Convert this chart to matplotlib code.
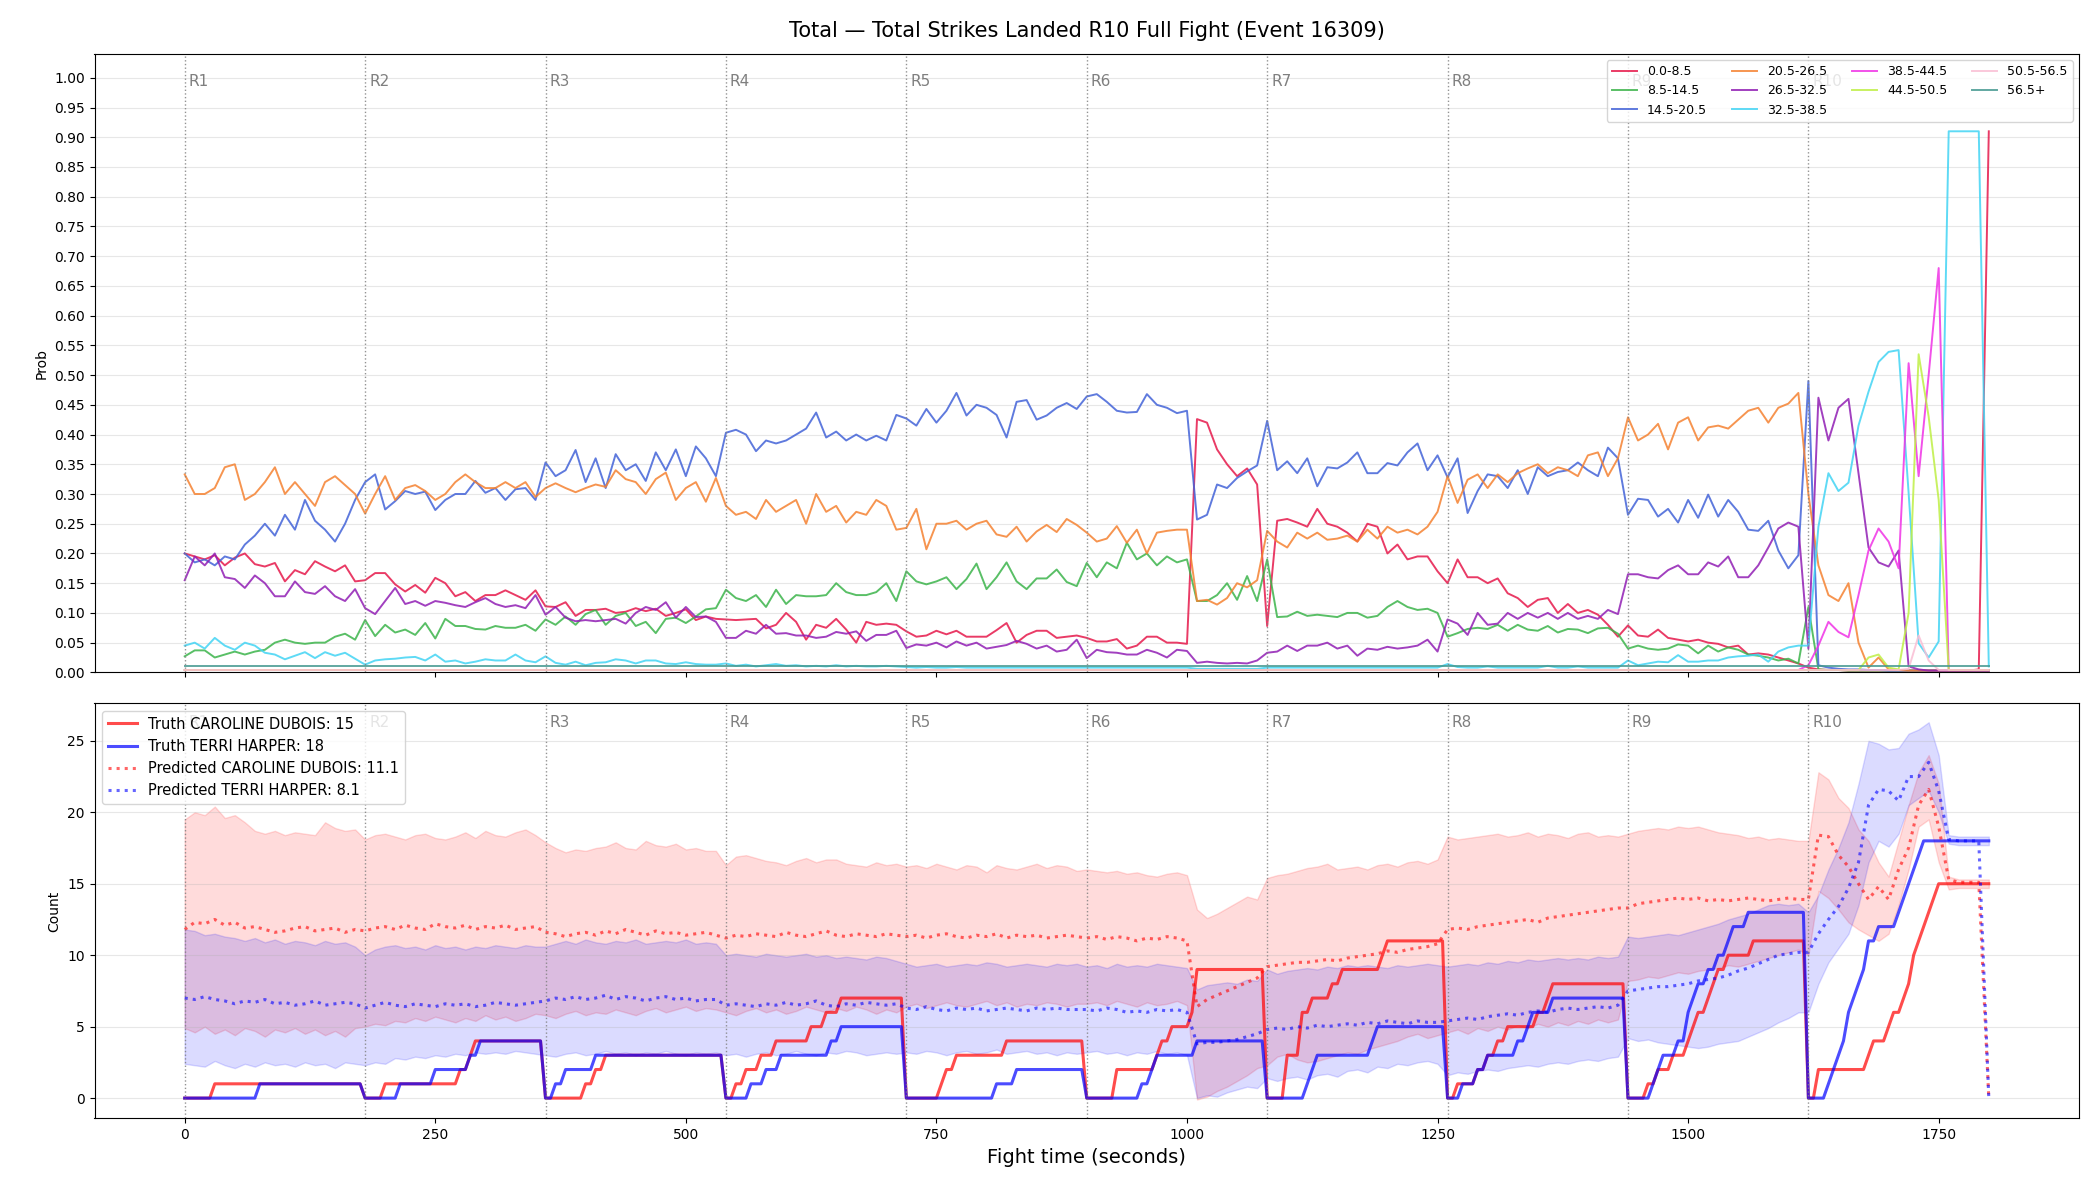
import numpy as np
import matplotlib
matplotlib.use("Agg")
import matplotlib.pyplot as plt

# ---------------- data ----------------
TITLE = "Total \u2014 Total Strikes Landed R10 Full Fight (Event 16309)"
ROUND_STARTS = [0, 180, 360, 540, 720, 900, 1080, 1260, 1440, 1620]
FIGHT_END = 1800
STEP = 10  # seconds between model samples

BIN_LABELS = ["0.0-8.5", "8.5-14.5", "14.5-20.5", "20.5-26.5", "26.5-32.5",
              "32.5-38.5", "38.5-44.5", "44.5-50.5", "50.5-56.5", "56.5+"]
BIN_COLORS = ["#e6194b", "#3cb44b", "#4363d8", "#f58231", "#911eb4",
              "#42d4f4", "#f032e6", "#bfef45", "#fabed4", "#469990"]

# probability of each total-strikes bin, one row per round, last value = t 1800
p_0_8 = [
    0.20, 0.195, 0.19, 0.197, 0.18, 0.193, 0.20, 0.182, 0.178, 0.184, 0.153, 0.172, 0.165, 0.187, 0.178, 0.17, 0.18, 0.153,
    0.155, 0.167, 0.167, 0.148, 0.136, 0.147, 0.134, 0.159, 0.15, 0.128, 0.135, 0.12, 0.13, 0.13, 0.138, 0.13, 0.122, 0.138,
    0.111, 0.11, 0.118, 0.095, 0.105, 0.105, 0.107, 0.10, 0.102, 0.108, 0.103, 0.107, 0.095, 0.10, 0.106, 0.088, 0.094, 0.09,
    0.089, 0.088, 0.089, 0.09, 0.074, 0.08, 0.10, 0.085, 0.055, 0.08, 0.075, 0.09, 0.072, 0.05, 0.085, 0.08, 0.082, 0.08,
    0.069, 0.06, 0.062, 0.07, 0.064, 0.07, 0.06, 0.06, 0.06, 0.071, 0.083, 0.05, 0.063, 0.07, 0.07, 0.058, 0.06, 0.062,
    0.058, 0.052, 0.052, 0.056, 0.04, 0.045, 0.06, 0.06, 0.05, 0.05, 0.048, 0.426, 0.42, 0.375, 0.35, 0.33, 0.343, 0.316,
    0.078, 0.255, 0.258, 0.252, 0.245, 0.275, 0.25, 0.245, 0.235, 0.22, 0.25, 0.245, 0.20, 0.215, 0.19, 0.195, 0.195, 0.17,
    0.15, 0.19, 0.16, 0.16, 0.15, 0.158, 0.133, 0.125, 0.11, 0.122, 0.125, 0.10, 0.115, 0.10, 0.105, 0.097, 0.08, 0.06,
    0.079, 0.062, 0.06, 0.072, 0.058, 0.055, 0.052, 0.055, 0.05, 0.048, 0.042, 0.045, 0.03, 0.032, 0.03, 0.025, 0.02, 0.015,
    0.008, 0.005, 0.004, 0.004, 0.003, 0.003, 0.003, 0.003, 0.003, 0.003, 0.003, 0.003, 0.003, 0.003, 0.003, 0.003, 0.003, 0.005,
    0.91,
]
p_8_14 = [
    0.027, 0.037, 0.037, 0.025, 0.03, 0.035, 0.03, 0.035, 0.038, 0.05, 0.055, 0.05, 0.048, 0.05, 0.05, 0.06, 0.065, 0.055,
    0.088, 0.061, 0.08, 0.067, 0.072, 0.063, 0.083, 0.057, 0.09, 0.078, 0.078, 0.073, 0.072, 0.078, 0.075, 0.075, 0.08, 0.07,
    0.089, 0.08, 0.094, 0.08, 0.098, 0.105, 0.08, 0.095, 0.10, 0.078, 0.085, 0.066, 0.09, 0.092, 0.083, 0.094, 0.106, 0.108,
    0.139, 0.125, 0.12, 0.13, 0.11, 0.139, 0.115, 0.13, 0.128, 0.128, 0.13, 0.15, 0.135, 0.13, 0.13, 0.135, 0.15, 0.12,
    0.17, 0.153, 0.148, 0.153, 0.16, 0.14, 0.157, 0.183, 0.14, 0.16, 0.185, 0.153, 0.14, 0.158, 0.158, 0.173, 0.152, 0.145,
    0.184, 0.16, 0.185, 0.175, 0.218, 0.19, 0.20, 0.18, 0.195, 0.185, 0.19, 0.12, 0.12, 0.13, 0.15, 0.122, 0.162, 0.12,
    0.19, 0.093, 0.094, 0.102, 0.095, 0.097, 0.095, 0.093, 0.10, 0.10, 0.092, 0.095, 0.11, 0.12, 0.11, 0.105, 0.107, 0.10,
    0.06, 0.066, 0.073, 0.075, 0.073, 0.08, 0.07, 0.08, 0.072, 0.07, 0.078, 0.067, 0.073, 0.072, 0.066, 0.074, 0.075, 0.065,
    0.04, 0.045, 0.04, 0.038, 0.04, 0.047, 0.045, 0.032, 0.045, 0.035, 0.042, 0.038, 0.03, 0.028, 0.025, 0.02, 0.023, 0.015,
    0.11, 0.005, 0.004, 0.004, 0.003, 0.003, 0.003, 0.003, 0.003, 0.003, 0.003, 0.003, 0.003, 0.003, 0.003, 0.003, 0.003, 0.003,
    0.003,
]
p_14_20 = [
    0.20, 0.185, 0.19, 0.18, 0.195, 0.19, 0.215, 0.23, 0.25, 0.23, 0.265, 0.24, 0.29, 0.255, 0.24, 0.22, 0.25, 0.29,
    0.32, 0.333, 0.274, 0.288, 0.305, 0.30, 0.304, 0.273, 0.29, 0.30, 0.30, 0.322, 0.302, 0.31, 0.29, 0.308, 0.31, 0.29,
    0.353, 0.33, 0.34, 0.374, 0.32, 0.36, 0.31, 0.367, 0.34, 0.35, 0.322, 0.37, 0.34, 0.375, 0.33, 0.38, 0.36, 0.33,
    0.403, 0.408, 0.40, 0.372, 0.39, 0.385, 0.39, 0.40, 0.41, 0.437, 0.395, 0.405, 0.39, 0.40, 0.39, 0.398, 0.39, 0.433,
    0.427, 0.415, 0.443, 0.42, 0.44, 0.47, 0.432, 0.45, 0.445, 0.433, 0.395, 0.455, 0.458, 0.425, 0.432, 0.445, 0.453, 0.443,
    0.464, 0.468, 0.455, 0.44, 0.437, 0.438, 0.468, 0.45, 0.445, 0.436, 0.44, 0.257, 0.265, 0.316, 0.31, 0.327, 0.338, 0.348,
    0.423, 0.34, 0.355, 0.335, 0.36, 0.313, 0.345, 0.343, 0.353, 0.37, 0.335, 0.335, 0.352, 0.348, 0.37, 0.385, 0.34, 0.365,
    0.328, 0.36, 0.268, 0.305, 0.333, 0.33, 0.31, 0.34, 0.30, 0.345, 0.33, 0.337, 0.34, 0.353, 0.34, 0.33, 0.378, 0.36,
    0.265, 0.292, 0.29, 0.262, 0.275, 0.252, 0.29, 0.26, 0.299, 0.262, 0.29, 0.27, 0.24, 0.238, 0.255, 0.205, 0.175, 0.197,
    0.49, 0.012, 0.008, 0.006, 0.005, 0.005, 0.004, 0.004, 0.003, 0.003, 0.003, 0.003, 0.003, 0.003, 0.003, 0.003, 0.003, 0.003,
    0.003,
]
p_20_26 = [
    0.333, 0.30, 0.30, 0.31, 0.345, 0.35, 0.29, 0.30, 0.32, 0.345, 0.30, 0.32, 0.30, 0.28, 0.32, 0.33, 0.315, 0.30,
    0.267, 0.30, 0.33, 0.29, 0.31, 0.315, 0.305, 0.29, 0.30, 0.32, 0.333, 0.32, 0.31, 0.31, 0.32, 0.31, 0.32, 0.295,
    0.31, 0.318, 0.31, 0.303, 0.31, 0.316, 0.312, 0.34, 0.325, 0.32, 0.30, 0.325, 0.336, 0.29, 0.31, 0.32, 0.287, 0.327,
    0.28, 0.265, 0.27, 0.258, 0.29, 0.27, 0.28, 0.29, 0.25, 0.30, 0.27, 0.28, 0.252, 0.27, 0.265, 0.29, 0.28, 0.24,
    0.243, 0.275, 0.207, 0.25, 0.25, 0.255, 0.24, 0.25, 0.255, 0.232, 0.228, 0.245, 0.22, 0.237, 0.248, 0.236, 0.258, 0.248,
    0.235, 0.22, 0.225, 0.246, 0.218, 0.24, 0.20, 0.235, 0.238, 0.24, 0.24, 0.12, 0.122, 0.114, 0.125, 0.15, 0.143, 0.155,
    0.238, 0.22, 0.21, 0.235, 0.225, 0.235, 0.223, 0.225, 0.23, 0.22, 0.24, 0.225, 0.245, 0.235, 0.24, 0.232, 0.245, 0.27,
    0.33, 0.285, 0.324, 0.333, 0.31, 0.333, 0.32, 0.335, 0.343, 0.35, 0.335, 0.345, 0.34, 0.33, 0.365, 0.37, 0.33, 0.36,
    0.429, 0.39, 0.40, 0.418, 0.375, 0.42, 0.429, 0.39, 0.412, 0.415, 0.41, 0.425, 0.44, 0.445, 0.42, 0.445, 0.452, 0.47,
    0.30, 0.18, 0.13, 0.12, 0.15, 0.05, 0.008, 0.025, 0.005, 0.004, 0.003, 0.003, 0.003, 0.003, 0.003, 0.003, 0.003, 0.003,
    0.003,
]
p_26_32 = [
    0.155, 0.195, 0.18, 0.20, 0.16, 0.157, 0.142, 0.163, 0.15, 0.128, 0.128, 0.153, 0.135, 0.132, 0.145, 0.128, 0.12, 0.14,
    0.108, 0.098, 0.12, 0.142, 0.115, 0.12, 0.112, 0.12, 0.117, 0.113, 0.11, 0.118, 0.125, 0.115, 0.11, 0.113, 0.108, 0.13,
    0.097, 0.11, 0.092, 0.086, 0.088, 0.086, 0.088, 0.09, 0.082, 0.10, 0.11, 0.105, 0.118, 0.092, 0.11, 0.093, 0.094, 0.085,
    0.058, 0.058, 0.07, 0.065, 0.08, 0.065, 0.066, 0.062, 0.062, 0.058, 0.06, 0.068, 0.065, 0.069, 0.053, 0.063, 0.063, 0.07,
    0.041, 0.047, 0.045, 0.05, 0.042, 0.052, 0.045, 0.05, 0.04, 0.043, 0.046, 0.053, 0.048, 0.04, 0.045, 0.035, 0.038, 0.055,
    0.024, 0.038, 0.034, 0.033, 0.03, 0.03, 0.038, 0.033, 0.025, 0.038, 0.036, 0.016, 0.018, 0.016, 0.015, 0.016, 0.015, 0.02,
    0.033, 0.035, 0.045, 0.036, 0.045, 0.045, 0.05, 0.04, 0.045, 0.028, 0.04, 0.038, 0.043, 0.04, 0.042, 0.045, 0.055, 0.035,
    0.089, 0.082, 0.063, 0.10, 0.08, 0.082, 0.10, 0.09, 0.10, 0.092, 0.10, 0.09, 0.10, 0.09, 0.095, 0.09, 0.105, 0.098,
    0.165, 0.165, 0.16, 0.158, 0.172, 0.18, 0.165, 0.165, 0.185, 0.178, 0.195, 0.16, 0.16, 0.18, 0.21, 0.242, 0.252, 0.245,
    0.04, 0.462, 0.39, 0.445, 0.46, 0.335, 0.21, 0.185, 0.178, 0.205, 0.01, 0.005, 0.003, 0.003, 0.003, 0.003, 0.003, 0.003,
    0.003,
]
p_32_38 = [
    0.045, 0.05, 0.04, 0.058, 0.045, 0.038, 0.05, 0.045, 0.033, 0.03, 0.022, 0.028, 0.034, 0.024, 0.034, 0.028, 0.033, 0.023,
    0.013, 0.02, 0.022, 0.023, 0.025, 0.026, 0.02, 0.03, 0.018, 0.02, 0.015, 0.018, 0.022, 0.02, 0.02, 0.03, 0.02, 0.017,
    0.027, 0.016, 0.013, 0.018, 0.012, 0.016, 0.017, 0.022, 0.02, 0.015, 0.02, 0.02, 0.015, 0.014, 0.017, 0.014, 0.013, 0.013,
    0.015, 0.011, 0.013, 0.01, 0.012, 0.014, 0.011, 0.012, 0.01, 0.011, 0.01, 0.012, 0.01, 0.011, 0.01, 0.01, 0.011, 0.01,
    0.009, 0.008, 0.009, 0.008, 0.008, 0.009, 0.008, 0.008, 0.008, 0.008, 0.008, 0.008, 0.008, 0.008, 0.008, 0.008, 0.008, 0.008,
    0.008, 0.008, 0.008, 0.008, 0.008, 0.008, 0.008, 0.008, 0.008, 0.008, 0.008, 0.006, 0.006, 0.006, 0.006, 0.006, 0.006, 0.006,
    0.008, 0.008, 0.008, 0.008, 0.008, 0.008, 0.008, 0.008, 0.008, 0.008, 0.008, 0.008, 0.008, 0.008, 0.008, 0.008, 0.008, 0.008,
    0.014, 0.009, 0.008, 0.008, 0.01, 0.008, 0.008, 0.008, 0.008, 0.008, 0.011, 0.008, 0.008, 0.01, 0.008, 0.008, 0.008, 0.008,
    0.02, 0.012, 0.015, 0.018, 0.017, 0.029, 0.018, 0.018, 0.02, 0.02, 0.025, 0.027, 0.028, 0.03, 0.018, 0.035, 0.042, 0.045,
    0.045, 0.245, 0.335, 0.305, 0.319, 0.415, 0.472, 0.522, 0.539, 0.542, 0.302, 0.049, 0.025, 0.052, 0.91, 0.91, 0.91, 0.91,
    0.01,
]
p_38_44 = [0.004] * 162 + [
    0.012, 0.045, 0.085, 0.068, 0.059, 0.13, 0.205, 0.242, 0.22, 0.175, 0.52, 0.33, 0.50, 0.68, 0.004, 0.004, 0.004, 0.004,
    0.004,
]
p_44_50 = [0.004] * 162 + [
    0.004, 0.004, 0.004, 0.004, 0.004, 0.004, 0.025, 0.03, 0.008, 0.005, 0.10, 0.535, 0.43, 0.29, 0.004, 0.004, 0.004, 0.004,
    0.004,
]
p_50_56 = [0.004] * 162 + [
    0.004, 0.004, 0.004, 0.004, 0.004, 0.004, 0.004, 0.004, 0.004, 0.004, 0.006, 0.062, 0.02, 0.004, 0.004, 0.004, 0.004, 0.004,
    0.004,
]
p_56_up = [0.01] * 181

# predicted totals and bands per fighter
red_name, red_truth_final, red_pred_label = "CAROLINE DUBOIS", 15, 11.1
blue_name, blue_truth_final, blue_pred_label = "TERRI HARPER", 18, 8.1

pred_red = [
    11.8, 12.3, 12.2, 12.5, 12.1, 12.3, 11.9, 12.0, 11.8, 11.6, 11.7, 11.9, 12.0, 11.7, 11.8, 11.9, 11.6, 11.8,
    11.7, 11.9, 12.0, 11.8, 12.1, 11.9, 11.8, 12.2, 12.0, 11.9, 12.1, 11.8, 12.0, 11.9, 12.1, 11.8, 11.9, 12.0,
    11.6, 11.5, 11.3, 11.5, 11.6, 11.4, 11.7, 11.5, 11.8, 11.6, 11.4, 11.7, 11.5, 11.6, 11.4, 11.5, 11.6, 11.4,
    11.2, 11.4, 11.3, 11.5, 11.4, 11.3, 11.6, 11.4, 11.3, 11.5, 11.7, 11.4, 11.3, 11.5, 11.4, 11.3, 11.5, 11.4,
    11.3, 11.4, 11.2, 11.4, 11.5, 11.3, 11.2, 11.4, 11.3, 11.5, 11.2, 11.4, 11.3, 11.4, 11.2, 11.3, 11.4, 11.3,
    11.2, 11.3, 11.1, 11.3, 11.2, 11.0, 11.2, 11.1, 11.3, 11.2, 11.0, 6.4, 6.9, 7.2, 7.5, 7.8, 8.1, 8.4,
    9.2, 9.3, 9.4, 9.5, 9.5, 9.6, 9.7, 9.6, 9.8, 9.9, 10.0, 10.1, 10.3, 10.2, 10.4, 10.5, 10.6, 10.8,
    11.8, 11.9, 11.8, 12.0, 12.1, 12.2, 12.3, 12.4, 12.5, 12.3, 12.6, 12.7, 12.8, 12.9, 13.0, 13.1, 13.2, 13.3,
    13.3, 13.6, 13.7, 13.8, 13.9, 14.0, 13.9, 14.0, 13.8, 13.9, 13.8, 13.9, 14.0, 13.9, 13.8, 13.9, 14.0, 13.9,
    13.9, 18.4, 18.3, 17.0, 16.2, 15.0, 13.9, 14.8, 13.9, 16.0, 17.5, 20.5, 21.6, 19.0, 15.3, 15.1, 15.1, 15.1,
    0.0,
]
pred_blue = [
    7.0, 6.9, 7.1, 6.9, 6.8, 6.6, 6.8, 6.7, 6.9, 6.6, 6.7, 6.5, 6.6, 6.8, 6.5, 6.6, 6.7, 6.6,
    6.3, 6.5, 6.7, 6.5, 6.4, 6.6, 6.5, 6.4, 6.6, 6.5, 6.6, 6.4, 6.5, 6.7, 6.6, 6.5, 6.6, 6.7,
    6.8, 7.0, 6.9, 7.1, 6.9, 7.0, 7.2, 6.9, 7.1, 7.0, 6.8, 7.0, 7.1, 6.9, 7.0, 6.8, 6.9, 6.9,
    6.5, 6.6, 6.5, 6.4, 6.6, 6.5, 6.7, 6.5, 6.6, 6.8, 6.5, 6.4, 6.6, 6.5, 6.7, 6.6, 6.5, 6.6,
    6.3, 6.2, 6.4, 6.2, 6.1, 6.3, 6.2, 6.3, 6.1, 6.2, 6.3, 6.2, 6.1, 6.3, 6.2, 6.3, 6.2, 6.2,
    6.2, 6.1, 6.3, 6.2, 6.0, 6.1, 6.0, 6.2, 6.1, 6.2, 6.0, 3.8, 3.9, 3.9, 4.0, 4.1, 4.3, 4.5,
    4.8, 4.9, 4.8, 5.0, 4.9, 5.1, 5.0, 5.1, 5.2, 5.1, 5.3, 5.2, 5.4, 5.3, 5.2, 5.4, 5.3, 5.3,
    5.4, 5.5, 5.6, 5.5, 5.7, 5.8, 5.9, 5.8, 6.0, 6.1, 6.0, 6.2, 6.3, 6.2, 6.3, 6.4, 6.3, 6.5,
    7.5, 7.6, 7.7, 7.8, 7.8, 7.9, 8.0, 8.2, 8.3, 8.4, 8.6, 8.9, 9.1, 9.4, 9.7, 10.0, 10.1, 10.2,
    10.2, 11.5, 12.5, 13.4, 14.7, 16.5, 20.5, 21.6, 21.5, 20.8, 22.5, 22.5, 23.5, 21.5, 18.1, 18.0, 18.0, 18.0,
    0.0,
]
red_hi = [
    19.5, 20.0, 19.8, 20.4, 19.6, 19.8, 19.3, 18.7, 18.5, 18.7, 18.4, 18.6, 18.5, 18.4, 19.3, 18.9, 18.7, 18.8,
    18.1, 18.4, 18.5, 18.3, 18.1, 18.4, 18.5, 18.2, 18.1, 18.3, 18.6, 18.2, 18.7, 18.4, 18.3, 18.6, 18.8, 18.4,
    17.9, 17.5, 17.2, 17.4, 17.3, 17.5, 17.6, 17.9, 17.5, 17.4, 18.0, 17.7, 17.6, 17.8, 17.4, 17.5, 17.3, 17.3,
    16.3, 16.9, 17.0, 16.8, 16.6, 16.5, 16.3, 16.6, 16.8, 16.5, 16.7, 16.7, 16.4, 16.3, 16.2, 16.5, 16.3, 16.4,
    16.2, 16.3, 16.1, 16.4, 16.2, 16.0, 16.3, 16.2, 15.8, 16.3, 16.1, 16.0, 16.2, 16.4, 16.1, 16.3, 16.2, 15.9,
    16.0, 15.9, 15.8, 15.9, 15.7, 15.8, 15.6, 15.5, 15.7, 15.8, 15.6, 13.2, 12.6, 12.9, 13.3, 13.7, 14.1, 13.9,
    15.4, 15.6, 15.7, 15.9, 16.1, 16.2, 16.4, 16.0, 16.1, 16.2, 16.0, 16.3, 16.4, 16.2, 16.5, 16.6, 16.4, 16.7,
    18.3, 18.1, 18.2, 18.3, 18.4, 18.5, 18.3, 18.4, 18.6, 18.3, 18.5, 18.4, 18.2, 18.5, 18.6, 18.3, 18.4, 18.3,
    18.5, 18.7, 18.8, 18.9, 18.8, 19.0, 18.9, 19.0, 18.8, 18.6, 18.5, 18.4, 18.2, 18.3, 18.1, 18.2, 18.1, 18.0,
    18.0, 22.8, 22.3, 21.0, 20.3, 18.8, 18.0, 16.5, 15.5, 18.0, 20.5, 22.8, 24.0, 22.0, 15.5, 15.3, 15.3, 15.3,
    15.3,
]
red_lo = [
    4.9, 4.6, 5.0, 4.5, 4.8, 4.4, 4.9, 4.7, 4.3, 4.8, 4.6, 4.9, 4.5, 4.8, 4.4, 4.7, 4.3, 4.9,
    5.0, 5.2, 5.1, 5.4, 5.3, 5.6, 5.4, 5.7, 5.5, 5.3, 5.6, 5.4, 5.8, 5.5, 5.7, 5.4, 5.6, 5.9,
    5.8, 5.6, 5.9, 6.1, 5.8, 6.0, 5.9, 6.2, 6.0, 5.8, 6.1, 6.3, 6.0, 6.2, 6.4, 6.1, 6.3, 6.2,
    6.0, 5.8, 6.1, 6.3, 6.0, 6.2, 5.9, 6.1, 6.4, 6.2, 6.0, 6.3, 6.1, 6.4, 6.2, 5.9, 6.2, 6.0,
    6.4, 6.6, 6.3, 6.5, 6.7, 6.5, 6.4, 6.6, 6.8, 6.5, 6.7, 6.4, 6.6, 6.5, 6.7, 6.6, 6.4, 6.6,
    6.6, 6.7, 6.5, 6.8, 6.6, 6.4, 6.7, 6.5, 6.6, 6.8, 6.5, -0.1, 0.1, 0.5, 0.8, 1.2, 1.6, 2.1,
    2.3, 2.9, 3.1, 2.7, 2.5, 2.6, 2.8, 3.0, 3.2, 3.1, 3.4, 3.6, 3.8, 4.0, 4.3, 4.5, 4.2, 4.4,
    4.6, 4.8, 4.5, 4.9, 4.7, 5.0, 4.8, 5.1, 4.9, 5.2, 5.0, 5.3, 5.1, 5.4, 5.2, 5.5, 5.3, 5.5,
    8.2, 8.3, 8.5, 8.4, 8.6, 8.8, 8.7, 8.9, 9.0, 9.1, 9.3, 9.2, 9.4, 9.6, 9.8, 10.0, 10.2, 10.4,
    10.0, 14.5, 14.0, 13.2, 12.3, 11.8, 11.4, 11.0, 11.5, 13.5, 16.0, 19.0, 19.5, 16.5, 14.6, 14.7, 14.7, 14.7,
    14.7,
]
blue_hi = [
    11.8, 11.7, 11.4, 11.5, 11.3, 11.2, 11.0, 11.2, 10.9, 11.1, 10.8, 11.0, 10.9, 10.7, 11.0, 10.8, 10.9, 10.6,
    10.0, 10.4, 10.6, 10.7, 10.5, 10.6, 10.4, 10.7, 10.5, 10.6, 10.4, 10.6, 10.5, 10.7, 10.6, 10.5, 10.7, 10.6,
    10.6, 10.8, 11.0, 10.8, 11.1, 10.9, 10.8, 11.0, 10.9, 11.1, 10.8, 10.9, 11.0, 10.9, 11.1, 10.8, 10.9, 10.8,
    10.0, 10.1, 10.0, 9.9, 10.1, 10.0, 9.9, 10.0, 10.1, 9.9, 10.0, 9.8, 9.9, 9.8, 9.7, 9.9, 9.8, 9.6,
    9.4, 9.2, 9.3, 9.4, 9.2, 9.3, 9.4, 9.3, 9.5, 9.4, 9.2, 9.3, 9.4, 9.3, 9.2, 9.4, 9.3, 9.4,
    9.2, 9.3, 9.1, 9.4, 9.2, 9.3, 9.2, 9.4, 9.3, 9.2, 9.1, 7.6, 7.9, 8.0, 8.1, 8.0, 8.3, 8.2,
    9.0, 8.7, 8.9, 9.0, 9.1, 9.0, 9.2, 9.1, 9.3, 9.2, 9.3, 9.2, 9.1, 9.3, 9.2, 9.3, 9.4, 9.3,
    9.2, 9.3, 9.4, 9.3, 9.5, 9.4, 9.6, 9.5, 9.7, 9.6, 9.7, 9.8, 9.7, 9.8, 9.7, 9.9, 9.8, 9.9,
    11.3, 11.2, 11.3, 11.4, 11.5, 11.4, 11.6, 11.8, 12.0, 12.2, 12.5, 12.7, 12.9, 13.2, 13.5, 13.6, 13.5, 13.6,
    13.0, 14.2, 16.0, 17.5, 19.3, 22.0, 25.0, 24.8, 24.4, 24.5, 25.5, 25.8, 26.3, 24.0, 18.4, 18.3, 18.3, 18.3,
    18.3,
]
blue_lo = [
    2.4, 2.3, 2.2, 2.6, 2.3, 2.1, 2.4, 2.2, 2.5, 2.3, 2.4, 2.2, 2.5, 2.3, 2.4, 2.1, 2.5, 2.4,
    2.3, 2.5, 2.4, 2.8, 2.7, 2.9, 2.8, 3.0, 2.9, 3.1, 3.0, 3.2, 3.1, 3.2, 3.1, 3.3, 3.2, 3.1,
    3.0, 2.9, 3.1, 3.2, 3.0, 3.1, 3.3, 3.1, 3.2, 3.0, 3.2, 3.1, 3.3, 3.1, 3.0, 3.2, 3.1, 3.2,
    3.0, 3.1, 2.9, 3.1, 3.2, 3.0, 3.1, 3.3, 3.1, 3.0, 3.2, 3.1, 3.3, 3.2, 3.0, 3.1, 3.2, 3.1,
    3.2, 3.1, 3.3, 3.2, 3.0, 3.2, 3.3, 3.1, 3.2, 3.4, 3.1, 3.2, 3.3, 3.1, 3.2, 3.0, 3.2, 3.1,
    3.2, 3.3, 3.1, 3.2, 3.0, 3.2, 3.1, 3.3, 3.1, 3.2, 3.0, 0.0, 0.2, 0.1, 0.4, 0.6, 0.8, 0.7,
    1.4, 1.2, 1.4, 1.5, 1.3, 1.6, 1.7, 1.5, 1.9, 2.0, 1.8, 2.2, 2.1, 2.4, 2.3, 2.5, 2.6, 2.4,
    1.6, 1.8, 1.7, 1.9, 2.0, 1.9, 2.1, 2.2, 2.3, 2.2, 2.4, 2.5, 2.4, 2.6, 2.7, 2.6, 2.8, 2.9,
    4.2, 4.0, 4.1, 3.9, 3.8, 3.7, 3.6, 3.5, 3.6, 3.8, 3.9, 4.0, 4.3, 4.6, 4.9, 5.3, 5.6, 6.0,
    6.0, 8.0, 9.5, 10.5, 11.5, 13.5, 16.5, 18.0, 17.6, 18.5, 20.5, 21.0, 21.5, 20.0, 17.8, 17.7, 17.7, 17.7,
    17.7,
]

# seconds at which each fighter landed a strike (truth counts reset every round)
red_strike_times = [
    30,
    199, 275, 283, 290,
    397, 407, 418,
    548, 560, 573, 587, 625, 640, 655,
    752, 760, 768, 818,
    927, 930, 966, 975, 982, 1005, 1007, 1008, 1010,
    1098, 1099, 1100, 1111, 1112, 1113, 1122, 1142, 1152, 1193, 1200,
    1270, 1288, 1300, 1306, 1318, 1350, 1356, 1363,
    1458, 1470, 1482, 1500, 1505, 1510, 1516, 1522, 1528, 1537, 1565,
    1627, 1629, 1678, 1685, 1700, 1705, 1712, 1716, 1721, 1724, 1729, 1733, 1738, 1742, 1749,
]
blue_strike_times = [
    73,
    213, 248, 285, 292,
    370, 380, 408,
    562, 578, 591, 645, 652,
    806, 830,
    955, 965, 970, 1008,
    1118, 1124, 1130, 1182, 1186,
    1272, 1290, 1300, 1330, 1336, 1342, 1362,
    1462, 1468, 1474, 1490, 1496, 1500, 1505, 1510, 1516, 1530, 1540, 1545, 1556,
    1638, 1645, 1650, 1654, 1656, 1660, 1664, 1668, 1672, 1676, 1680, 1690, 1710, 1715, 1718, 1722, 1728, 1734,
]

prob_series = [p_0_8, p_8_14, p_14_20, p_20_26, p_26_32, p_32_38, p_38_44, p_44_50, p_50_56, p_56_up]
for s in prob_series + [pred_red, pred_blue, red_hi, red_lo, blue_hi, blue_lo]:
    assert len(s) == 181, len(s)


def round_counts(times, grid):
    # cumulative strikes inside the current round at each grid time
    times = np.asarray(times)
    starts = np.minimum(grid // 180, 9) * 180
    return np.array([np.sum((times >= s) & (times <= g)) for s, g in zip(starts, grid)])


def mark_rounds(ax):
    for i, start in enumerate(ROUND_STARTS):
        ax.axvline(start, color="gray", linestyle=":", linewidth=1.0, alpha=0.85)
        ax.text(start + 4, 0.955, f"R{i + 1}", transform=ax.get_xaxis_transform(),
                color="dimgray", alpha=0.85, fontsize=11, va="center")


t_model = np.arange(0, FIGHT_END + 1, STEP)
t_truth = np.arange(0, FIGHT_END + 1, 5)

fig, (ax1, ax2) = plt.subplots(2, 1, figsize=(21, 12), dpi=100, sharex=True,
                               gridspec_kw={"height_ratios": [1.49, 1]})
fig.subplots_adjust(left=0.045, right=0.99, top=0.955, bottom=0.068, hspace=0.06)

# top: bin probabilities
for label, vals, color in zip(BIN_LABELS, prob_series, BIN_COLORS):
    ax1.plot(t_model, vals, color=color, linewidth=1.4, alpha=0.85, label=label)
ax1.set_ylim(0, 1.04)
ax1.set_yticks(np.arange(0, 1.001, 0.05))
ax1.yaxis.set_major_formatter("{x:.2f}")
ax1.grid(axis="y", alpha=0.3)
ax1.set_ylabel("Prob")
mark_rounds(ax1)
ax1.legend(ncol=4, fontsize=9, loc="upper right")
ax1.set_title(TITLE, fontsize=15, pad=12)

# bottom: truth vs predicted counts
ax2.fill_between(t_model, red_lo, red_hi, color="red", alpha=0.14)
ax2.fill_between(t_model, blue_lo, blue_hi, color="blue", alpha=0.14)
ax2.plot(t_truth, round_counts(red_strike_times, t_truth), color="red", linewidth=2.2, alpha=0.7,
         label=f"Truth {red_name}: {red_truth_final}")
ax2.plot(t_truth, round_counts(blue_strike_times, t_truth), color="blue", linewidth=2.2, alpha=0.7,
         label=f"Truth {blue_name}: {blue_truth_final}")
ax2.plot(t_model, pred_red, color="red", linestyle=":", linewidth=2.2, alpha=0.6,
         label=f"Predicted {red_name}: {red_pred_label}")
ax2.plot(t_model, pred_blue, color="blue", linestyle=":", linewidth=2.2, alpha=0.6,
         label=f"Predicted {blue_name}: {blue_pred_label}")
ax2.grid(axis="y", alpha=0.3)
ax2.set_ylabel("Count")
ax2.set_xlabel("Fight time (seconds)", fontsize=14)
mark_rounds(ax2)
ax2.legend(loc="upper left", fontsize=10.5)

fig.savefig("out.png")
